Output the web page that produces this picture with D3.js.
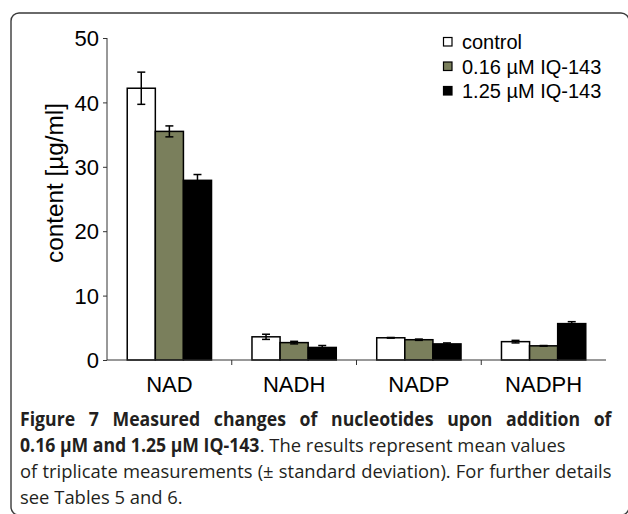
<!DOCTYPE html>
<html>
<head>
<meta charset="utf-8">
<script src="https://cdn.jsdelivr.net/npm/d3@7"></script>
<style>
  html, body { margin: 0; padding: 0; background: #fff; }
  svg { display: block; }
</style>
</head>
<body>
<svg id="chart" width="628" height="514"></svg>
<script>
// ---- data ----
const categories = ["NAD", "NADH", "NADP", "NADPH"];
const seriesNames = ["control", "0.16 µM IQ-143", "1.25 µM IQ-143"];
const controlValues = [42.2, 3.6, 3.45, 2.85];
const lowDoseValues = [35.5, 2.7, 3.15, 2.2];
const highDoseValues = [27.9, 1.95, 2.5, 5.65];
const controlSD = [2.5, 0.4, 0.05, 0.2];
const lowDoseSD = [0.85, 0.2, 0.1, 0.05];
const highDoseSD = [0.9, 0.3, 0.15, 0.3];
const yTicks = [0, 10, 20, 30, 40, 50];
const captionLines = [
  [{t: "Figure 7 Measured changes of nucleotides upon addition of", b: true}],
  [{t: "0.16 µM and 1.25 µM IQ-143", b: true}, {t: ". The results represent mean values", b: false}],
  [{t: "of triplicate measurements (± standard deviation). For further details", b: false}],
  [{t: "see Tables 5 and 6.", b: false}]
];

// ---- layout (not data) ----
const captionJustify = [true, false, true, false];
const captionBaselines = [426, 452, 478, 504];
const captionLeft = 20, captionRight = 612;

const seriesValues = [controlValues, lowDoseValues, highDoseValues];
const seriesSD = [controlSD, lowDoseSD, highDoseSD];
const seriesColors = ["#ffffff", "#7a7f5c", "#000000"];

const svg = d3.select("#chart");

// frame
svg.append("rect")
  .attr("x", 11).attr("y", 13)
  .attr("width", 618).attr("height", 502)
  .attr("rx", 8).attr("ry", 8)
  .attr("fill", "none").attr("stroke", "#3a3a3a").attr("stroke-width", 1.4);

const x0 = d3.scaleBand().domain(categories).range([107, 606]).paddingInner(0).paddingOuter(0);
const x1 = d3.scaleBand().domain(d3.range(seriesNames.length)).range([0, x0.bandwidth()])
  .paddingInner(0).paddingOuter(0.72);
const y = d3.scaleLinear().domain([0, 50]).range([360, 38]);

const data = [];
categories.forEach((c, i) => {
  seriesNames.forEach((s, j) => {
    data.push({cat: c, s: j, v: seriesValues[j][i], sd: seriesSD[j][i]});
  });
});

// bars
svg.append("g").selectAll("rect").data(data).join("rect")
  .attr("x", d => x0(d.cat) + x1(d.s))
  .attr("y", d => y(d.v))
  .attr("width", x1.bandwidth())
  .attr("height", d => y(0) - y(d.v))
  .attr("fill", d => seriesColors[d.s])
  .attr("stroke", "#000").attr("stroke-width", 1.5);

// error bars
const eg = svg.append("g").attr("stroke", "#000").attr("stroke-width", 1.5).attr("fill", "none");
data.forEach(d => {
  const cx = x0(d.cat) + x1(d.s) + x1.bandwidth() / 2;
  const yt = y(d.v + d.sd), yb = y(d.v - d.sd);
  eg.append("line").attr("x1", cx).attr("x2", cx).attr("y1", yt).attr("y2", yb);
  eg.append("line").attr("x1", cx - 4).attr("x2", cx + 4).attr("y1", yt).attr("y2", yt);
  eg.append("line").attr("x1", cx - 4).attr("x2", cx + 4).attr("y1", yb).attr("y2", yb);
});

// y axis
const yAxis = d3.axisLeft(y).tickValues(yTicks).tickSize(4).tickPadding(4).tickFormat(d3.format("d"));
const gy = svg.append("g").attr("transform", "translate(107,0)").call(yAxis);
gy.select(".domain").attr("stroke", "#333").attr("d", `M0,${y(50)}V${y(0)}`);
gy.selectAll(".tick line").attr("stroke", "#333");
gy.selectAll(".tick text").attr("font-family", "Liberation Sans, Arial, sans-serif")
  .attr("font-size", 22).attr("fill", "#000").attr("dy", "0.35em");

// x axis
const gx = svg.append("g").attr("transform", `translate(0,${y(0)})`);
gx.append("line").attr("x1", 107).attr("x2", 606).attr("y1", 0).attr("y2", 0).attr("stroke", "#333");
gx.selectAll("line.tk").data(categories.slice(1)).join("line").attr("class", "tk")
  .attr("x1", d => x0(d)).attr("x2", d => x0(d)).attr("y1", 0).attr("y2", 5).attr("stroke", "#333");
gx.selectAll("text").data(categories).join("text")
  .attr("x", d => x0(d) + x0.bandwidth() / 2).attr("y", 32)
  .attr("text-anchor", "middle")
  .attr("font-family", "Liberation Sans, Arial, sans-serif").attr("font-size", 22).attr("fill", "#000")
  .text(d => d);

// y label
svg.append("text")
  .attr("transform", "translate(63,183) rotate(-90)")
  .attr("text-anchor", "middle")
  .attr("font-family", "Liberation Sans, Arial, sans-serif").attr("font-size", 23).attr("fill", "#000")
  .attr("textLength", 160).attr("lengthAdjust", "spacingAndGlyphs")
  .text("content [µg/ml]");

// legend
const lg = svg.append("g");
seriesNames.forEach((s, j) => {
  const cy = 42 + j * 24.5;
  lg.append("rect").attr("x", 443.5).attr("y", cy - 4.5).attr("width", 8.5).attr("height", 8.5)
    .attr("fill", seriesColors[j]).attr("stroke", "#000").attr("stroke-width", 1.2);
  lg.append("text").attr("x", 462).attr("y", cy).attr("dy", "0.35em")
    .attr("font-family", "Liberation Sans, Arial, sans-serif").attr("font-size", 20).attr("fill", "#000")
    .text(s);
});

// caption: condensed humanist face approximated by horizontally scaled Open Sans, justified lines
const cap = svg.append("g").attr("font-family", "Open Sans, sans-serif").attr("fill", "#231f20");
const FS = 19;
function measure(str, bold) {
  const t = cap.append("text").attr("font-size", FS).attr("font-weight", bold ? 700 : 400)
    .style("white-space", "pre").text(str);
  const w = t.node().getComputedTextLength();
  t.remove();
  return w;
}
const sBold = 0.93;   // horizontal condensation of bold face
const sReg = 0.97;    // horizontal condensation of regular face
captionLines.forEach((line, i) => {
  let W = 0, nSpaces = 0;
  line.forEach(seg => {
    W += measure(seg.t, seg.b) * (seg.b ? sBold : sReg);
    nSpaces += (seg.t.match(/ /g) || []).length;
  });
  const fit = W > captionRight - captionLeft ? (captionRight - captionLeft) / W : 1;
  const extra = captionJustify[i] && nSpaces > 0 ? Math.max(0, (captionRight - captionLeft - W) / nSpaces) : 0;
  let xPos = captionLeft;
  line.forEach(seg => {
    const s = (seg.b ? sBold : sReg) * fit;
    const t = cap.append("text").attr("x", 0).attr("y", 0).attr("font-size", FS)
      .attr("font-weight", seg.b ? 700 : 400)
      .style("word-spacing", (extra / s) + "px")
      .text(seg.t);
    const w = t.node().getComputedTextLength();
    t.attr("transform", `translate(${xPos},${captionBaselines[i]}) scale(${s},1)`);
    xPos += w * s;
  });
});
</script>
</body>
</html>
